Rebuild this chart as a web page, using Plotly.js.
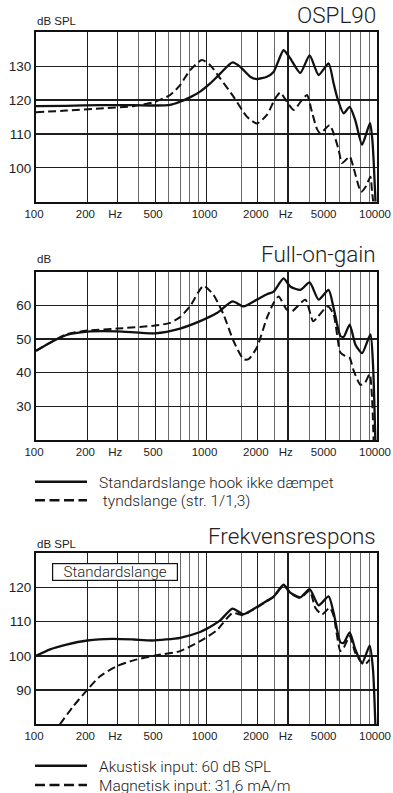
<!DOCTYPE html>
<html>
<head>
<meta charset="utf-8">
<script src="https://cdn.plot.ly/plotly-3.0.1.min.js"></script>
<style>
html,body{margin:0;padding:0;background:#fff;}
#chart{width:393px;height:793px;}
</style>
</head>
<body>
<div id="chart"></div>
<script>
// ---------- DATA ----------
// OSPL90 (dB SPL)
const osplSolidF  = [100,150,237,373,500,612,700,800,918,1051,1203,1421,1577,1805,1975,2261,2474,2832,3099,3547,4026,4545,5200,5567,5824,6373,6915,7461,8175,9100,9400,9600,9800];
const osplSolidDb = [118.2,118.3,118.5,118.5,118.4,118.6,119.5,120.8,122.5,124.9,127.8,131.1,129.8,126.9,126.2,126.9,128.3,134.7,132.3,128.0,133.2,127.4,130.8,124.9,121.0,116.1,118.0,114.0,106.8,113.2,108.0,100.0,90.0];
const osplDashF   = [100,150,237,373,500,612,700,800,939,1051,1203,1440,1725,1975,2261,2531,2707,2962,3242,3628,3886,4154,4443,4653,5278,5567,5957,6240,6915,7295,8066,8600,9150,9350,9500];
const osplDashDb  = [116.4,116.9,117.5,118.2,119.5,121.5,124.4,128.8,131.8,130.3,126.4,121.0,115.1,113.1,115.6,120.5,122.2,119.5,117.1,120.0,121.5,116.5,111.5,110.2,112.6,110.2,105.3,101.4,103.3,99.9,92.9,94.5,97.4,93.0,90.0];

// Full-on-gain (dB)
const fogSolidF   = [100,121,151,200,300,500,700,918,1150,1421,1649,1975,2261,2474,2832,3099,3547,4026,4545,5200,5567,5957,6100,6373,6915,7461,8175,9150,9474,9780];
const fogSolidDb  = [46.5,48.9,51.2,52.2,52.3,51.7,53.1,55.3,57.7,61.2,59.7,61.7,63.3,64.1,68.0,65.6,64.6,66.8,61.7,64.6,59.2,52.4,50.9,50.6,54.3,48.4,45.8,51.4,42.5,20.0];
const fogDashF    = [100,151,200,300,500,612,700,800,960,1099,1258,1440,1649,1764,1975,2261,2474,2647,2962,3170,3798,4216,4443,5136,5567,6100,6500,6900,7295,7990,8500,9060,9346,9550];
const fogDashDb   = [46.5,51.4,52.5,53.1,54.0,54.8,56.5,59.7,65.8,63.1,57.3,49.4,44.0,44.0,47.5,56.3,60.7,62.6,58.7,58.2,61.7,55.3,56.3,59.7,57.3,46.0,45.0,44.5,40.6,36.4,37.0,39.6,32.7,20.0];

// Frekvensrespons (dB SPL)
const frSolidF    = [100,121,151,200,280,373,480,700,918,1000,1203,1421,1649,1975,2261,2474,2832,3099,3547,4026,4545,5200,5567,6100,6373,6915,7461,8175,9060,9474,9780];
const frSolidDb   = [100.0,101.9,103.3,104.5,105.0,104.8,104.5,105.3,107.0,107.9,110.4,113.8,112.2,114.3,116.1,117.3,120.8,118.5,117.1,119.5,114.8,117.4,112.6,104.0,103.8,106.9,101.9,97.9,103.0,96.0,80.0];
const frDashF     = [138,165,200,237,298,373,500,700,918,1150,1421,1649,1805,1975,2261,2474,2832,3099,3547,4026,4345,4760,5280,5567,6100,6400,6915,7461,8400,9060];
const frDashDb    = [80.0,85.2,90.1,94.0,97.0,98.7,100.1,101.4,104.3,107.5,112.5,111.9,113.1,114.1,116.0,117.2,120.6,118.4,117.0,119.0,114.1,112.1,114.1,111.7,101.4,102.5,105.8,100.9,97.4,98.9];

// Axis labels
const xGridVals  = [100,200,300,500,1000,2000,3000,5000,10000];
const xGridText  = ['100','200','Hz','500','1000','2000','Hz','5000','10000'];
const xMinorVals = [400,600,700,800,900,1600,2500,4000,6000,7000,8000,9000];
const y1Ticks = [100,110,120,130];
const y2Ticks = [30,40,50,60];
const y3Ticks = [90,100,110,120];

const titles = ['OSPL90','Full-on-gain','Frekvensrespons'];
const unitLabels = ['dB SPL','dB','dB SPL'];
const legend1 = ['Standardslange hook ikke dæmpet',' tyndslange (str. 1/1,3)'];
const legend2 = ['Akustisk input: 60 dB SPL','Magnetisk input: 31,6 mA/m'];
const boxLabel = 'Standardslange';

// ---------- LAYOUT ----------
const W = 393, H = 793;
const px = v => v / W;
const py = v => 1 - v / H;

const solidLine = {color:'#111', width:2.3, shape:'spline', smoothing:0.6};
const dashLine  = {color:'#111', width:2.0, shape:'spline', smoothing:0.6, dash:'8px,4px'};

function tr(x, y, xa, ya, line){
  return {x:x, y:y, xaxis:xa, yaxis:ya, type:'scatter', mode:'lines', line:line, showlegend:false, hoverinfo:'skip'};
}
const data = [
  tr(osplSolidF, osplSolidDb, 'x', 'y', solidLine),
  tr(osplDashF, osplDashDb, 'x', 'y', dashLine),
  tr(fogSolidF, fogSolidDb, 'x2', 'y2', solidLine),
  tr(fogDashF, fogDashDb, 'x2', 'y2', dashLine),
  tr(frSolidF, frSolidDb, 'x3', 'y3', solidLine),
  tr(frDashF, frDashDb, 'x3', 'y3', dashLine)
];

const xDomain = [px(36), px(377)];
function xAxis(anchor){
  return {
    domain:xDomain, anchor:anchor, type:'log', range:[2,4],
    tickmode:'array', tickvals:xGridVals, ticktext:xGridText,
    showgrid:true, gridcolor:'#1e1e1e', gridwidth:1.3,
    minor:{tickmode:'array', tickvals:xMinorVals, showgrid:true, gridcolor:'#6a6a6a', gridwidth:1, ticks:''},
    showline:true, mirror:true, linecolor:'#111', linewidth:2,
    ticks:'', zeroline:false, fixedrange:true, ticklabeloverflow:'allow', ticklabelshift:-2,
    tickfont:{family:'Liberation Sans, Arial, sans-serif', size:11.5, color:'#222'}
  };
}
function yAxis(anchor, top, bottom, range, ticks){
  return {
    domain:[py(bottom), py(top)], anchor:anchor, range:range,
    tickmode:'array', tickvals:ticks,
    showgrid:true, gridcolor:'#1e1e1e', gridwidth:1.3,
    showline:true, mirror:true, linecolor:'#111', linewidth:2,
    ticks:'', zeroline:false, fixedrange:true,
    tickfont:{family:'Liberation Sans, Arial, sans-serif', size:13.5, color:'#222'}
  };
}

const titleFont = {family:'Roboto, sans-serif', size:22.5, color:'#222', weight:300};
const unitFont  = {family:'Liberation Sans, Arial, sans-serif', size:11.5, color:'#222'};
const legFont   = {family:'Roboto, sans-serif', size:15.5, color:'#1a1a1a', weight:300};

function ann(text, x, y, xanchor, font, h){
  const a = {text:text, xref:'paper', yref:'paper', x:px(x), y:py(y), xanchor:xanchor, yanchor:'middle', showarrow:false, font:font};
  if (h) a.height = h;
  return a;
}
const annotations = [
  ann(titles[0], 378, 15.5, 'right', titleFont),
  ann(titles[1], 378, 253.5, 'right', titleFont),
  ann(titles[2], 378, 535.5, 'right', titleFont),
  ann(unitLabels[0], 35, 21, 'left', unitFont),
  ann(unitLabels[1], 35, 259, 'left', unitFont),
  ann(unitLabels[2], 35, 544, 'left', unitFont),
  ann(legend1[0], 97, 482.5, 'left', legFont, 17),
  ann(legend1[1], 97, 500.5, 'left', legFont, 17),
  ann(legend2[0], 97, 766, 'left', legFont, 17),
  ann(legend2[1], 97, 785, 'left', legFont, 15),
  {text:boxLabel, xref:'paper', yref:'paper', x:px(114.5), y:py(572), xanchor:'center', yanchor:'middle', showarrow:false,
   font:{family:'Roboto, sans-serif', size:15, color:'#1a1a1a', weight:300}, bordercolor:'#111', borderwidth:1.2, borderpad:0, bgcolor:'#fff', width:124, height:16}
];

function legLine(y, dash){
  const s = {type:'line', xref:'paper', yref:'paper', x0:px(35), x1:px(87), y0:py(y), y1:py(y), line:{color:'#111', width:2.5}};
  if (dash) s.line.dash = '10px,4.5px';
  return s;
}
const shapes = [legLine(481.7,false), legLine(500.3,true), legLine(765.7,false), legLine(785,true)];

const layout = {
  width:W, height:H, margin:{l:0,r:0,t:0,b:0},
  paper_bgcolor:'#fff', plot_bgcolor:'#fff', showlegend:false,
  xaxis:xAxis('y'), xaxis2:xAxis('y2'), xaxis3:xAxis('y3'),
  yaxis:yAxis('x', 32.3, 201.7, [90,140], y1Ticks),
  yaxis2:yAxis('x2', 271.7, 440, [20,70], y2Ticks),
  yaxis3:yAxis('x3', 553.3, 724.3, [80,130], y3Ticks),
  annotations:annotations, shapes:shapes
};

Plotly.newPlot('chart', data, layout, {staticPlot:true, displayModeBar:false});
</script>
</body>
</html>
